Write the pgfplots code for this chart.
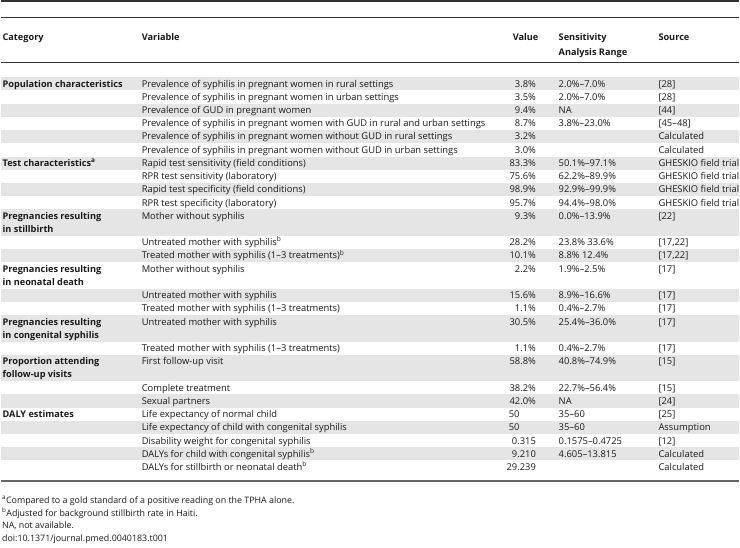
\documentclass[border=0pt]{standalone}
\usepackage{fontspec}
\setmainfont{Open Sans}
\usepackage{pgfplots}
\pgfplotsset{compat=1.18}
\definecolor{shade}{HTML}{E5E5E5}
\definecolor{txt}{HTML}{1A1A1A}
\definecolor{rulec}{HTML}{333333}

% x positions of the columns
\def\xcat{1.5}
\def\xvar{141}
\def\xval{536.5}
\def\xrng{559}
\def\xsrc{659}

\tikzset{
  cell/.style={anchor=base west, inner sep=0pt, text=txt, font=\fontsize{9.4}{11}\selectfont},
  cellr/.style={anchor=base east, inner sep=0pt, text=txt, font=\fontsize{9.4}{11}\selectfont},
  foot/.style={anchor=base west, inner sep=0pt, text=txt, font=\fontsize{8.9}{11}\selectfont},
  head/.style={anchor=base west, inner sep=0pt, text=txt, font=\fontsize{9.2}{11}\selectfont\bfseries},
  headr/.style={anchor=base east, inner sep=0pt, text=txt, font=\fontsize{9.2}{11}\selectfont\bfseries},
}

\begin{document}
\begin{tikzpicture}
\begin{axis}[
  width=740pt, height=549pt, scale only axis,
  xmin=0, xmax=740, ymin=0, ymax=549, y dir=reverse,
  hide axis, clip=false,
]
% page frame (invisible)
\addplot[draw=none, forget plot] coordinates {(0,0) (740,549)};

% shaded row bands (y from, y to)
\addplot[fill=shade, draw=none, forget plot] coordinates {(0,77.4) (740,77.4) (740,90.6) (0,90.6)};
\addplot[fill=shade, draw=none, forget plot] coordinates {(0,103.9) (740,103.9) (740,117.1) (0,117.1)};
\addplot[fill=shade, draw=none, forget plot] coordinates {(0,130.4) (740,130.4) (740,143.6) (0,143.6)};
\addplot[fill=shade, draw=none, forget plot] coordinates {(0,156.9) (740,156.9) (740,170.1) (0,170.1)};
\addplot[fill=shade, draw=none, forget plot] coordinates {(0,183.4) (740,183.4) (740,196.6) (0,196.6)};
\addplot[fill=shade, draw=none, forget plot] coordinates {(0,209.9) (740,209.9) (740,236.4) (0,236.4)};
\addplot[fill=shade, draw=none, forget plot] coordinates {(0,249.6) (740,249.6) (740,262.9) (0,262.9)};
\addplot[fill=shade, draw=none, forget plot] coordinates {(0,289.4) (740,289.4) (740,302.6) (0,302.6)};
\addplot[fill=shade, draw=none, forget plot] coordinates {(0,315.9) (740,315.9) (740,342.4) (0,342.4)};
\addplot[fill=shade, draw=none, forget plot] coordinates {(0,355.6) (740,355.6) (740,382.1) (0,382.1)};
\addplot[fill=shade, draw=none, forget plot] coordinates {(0,395.4) (740,395.4) (740,408.6) (0,408.6)};
\addplot[fill=shade, draw=none, forget plot] coordinates {(0,421.9) (740,421.9) (740,435.1) (0,435.1)};
\addplot[fill=shade, draw=none, forget plot] coordinates {(0,448.4) (740,448.4) (740,461.6) (0,461.6)};

% rules
\addplot[rulec, line width=1.8pt, forget plot] coordinates {(0,0.9) (740,0.9)};
\addplot[rulec, line width=0.8pt, forget plot] coordinates {(0,17.3) (740,17.3)};
\addplot[rulec, line width=0.9pt, forget plot] coordinates {(0,62.3) (740,62.3)};
\addplot[black!60, line width=1.7pt, forget plot] coordinates {(0,482) (740,482)};

% header
\node[head] at (axis cs:\xcat,40.6) {Category};
\node[head] at (axis cs:\xvar,40.6) {Variable};
\node[headr] at (axis cs:539,40.6) {Value};
\node[head] at (axis cs:\xrng,40.6) {Sensitivity};
\node[head] at (axis cs:\xrng,55.4) {Analysis Range};
\node[head] at (axis cs:\xsrc,40.6) {Source};

% categories
\node[head] at (axis cs:\xcat,87.3) {Population characteristics};
\node[head] at (axis cs:\xcat,166.8) {Test characteristics\textsuperscript{a}};
\node[head] at (axis cs:\xcat,219.8) {Pregnancies resulting};
\node[head] at (axis cs:\xcat,233.1) {in stillbirth};
\node[head] at (axis cs:\xcat,272.8) {Pregnancies resulting};
\node[head] at (axis cs:\xcat,286.1) {in neonatal death};
\node[head] at (axis cs:\xcat,325.8) {Pregnancies resulting};
\node[head] at (axis cs:\xcat,339.1) {in congenital syphilis};
\node[head] at (axis cs:\xcat,365.6) {Proportion attending};
\node[head] at (axis cs:\xcat,378.8) {follow-up visits};
\node[head] at (axis cs:\xcat,418.6) {DALY estimates};

% rows: variable / value / range / source
\node[cell] at (axis cs:\xvar,87.3) {Prevalence of syphilis in pregnant women in rural settings};
\node[cellr] at (axis cs:\xval,87.3) {3.8\%};
\node[cell] at (axis cs:\xrng,87.3) {2.0\%–7.0\%};
\node[cell] at (axis cs:\xsrc,87.3) {[28]};

\node[cell] at (axis cs:\xvar,100.6) {Prevalence of syphilis in pregnant women in urban settings};
\node[cellr] at (axis cs:\xval,100.6) {3.5\%};
\node[cell] at (axis cs:\xrng,100.6) {2.0\%–7.0\%};
\node[cell] at (axis cs:\xsrc,100.6) {[28]};

\node[cell] at (axis cs:\xvar,113.8) {Prevalence of GUD in pregnant women};
\node[cellr] at (axis cs:\xval,113.8) {9.4\%};
\node[cell] at (axis cs:\xrng,113.8) {NA};
\node[cell] at (axis cs:\xsrc,113.8) {[44]};

\node[cell] at (axis cs:\xvar,127.1) {Prevalence of syphilis in pregnant women with GUD in rural and urban settings};
\node[cellr] at (axis cs:\xval,127.1) {8.7\%};
\node[cell] at (axis cs:\xrng,127.1) {3.8\%–23.0\%};
\node[cell] at (axis cs:\xsrc,127.1) {[45–48]};

\node[cell] at (axis cs:\xvar,140.3) {Prevalence of syphilis in pregnant women without GUD in rural settings};
\node[cellr] at (axis cs:\xval,140.3) {3.2\%};
\node[cell] at (axis cs:\xsrc,140.3) {Calculated};

\node[cell] at (axis cs:\xvar,153.6) {Prevalence of syphilis in pregnant women without GUD in urban settings};
\node[cellr] at (axis cs:\xval,153.6) {3.0\%};
\node[cell] at (axis cs:\xsrc,153.6) {Calculated};

\node[cell] at (axis cs:\xvar,166.8) {Rapid test sensitivity (field conditions)};
\node[cellr] at (axis cs:\xval,166.8) {83.3\%};
\node[cell] at (axis cs:\xrng,166.8) {50.1\%–97.1\%};
\node[cell] at (axis cs:\xsrc,166.8) {GHESKIO field trial};

\node[cell] at (axis cs:\xvar,180.1) {RPR test sensitivity (laboratory)};
\node[cellr] at (axis cs:\xval,180.1) {75.6\%};
\node[cell] at (axis cs:\xrng,180.1) {62.2\%–89.9\%};
\node[cell] at (axis cs:\xsrc,180.1) {GHESKIO field trial};

\node[cell] at (axis cs:\xvar,193.3) {Rapid test specificity (field conditions)};
\node[cellr] at (axis cs:\xval,193.3) {98.9\%};
\node[cell] at (axis cs:\xrng,193.3) {92.9\%–99.9\%};
\node[cell] at (axis cs:\xsrc,193.3) {GHESKIO field trial};

\node[cell] at (axis cs:\xvar,206.6) {RPR test specificity (laboratory)};
\node[cellr] at (axis cs:\xval,206.6) {95.7\%};
\node[cell] at (axis cs:\xrng,206.6) {94.4\%–98.0\%};
\node[cell] at (axis cs:\xsrc,206.6) {GHESKIO field trial};

\node[cell] at (axis cs:\xvar,219.8) {Mother without syphilis};
\node[cellr] at (axis cs:\xval,219.8) {9.3\%};
\node[cell] at (axis cs:\xrng,219.8) {0.0\%–13.9\%};
\node[cell] at (axis cs:\xsrc,219.8) {[22]};

\node[cell] at (axis cs:\xvar,246.3) {Untreated mother with syphilis\textsuperscript{b}};
\node[cellr] at (axis cs:\xval,246.3) {28.2\%};
\node[cell] at (axis cs:\xrng,246.3) {23.8\% 33.6\%};
\node[cell] at (axis cs:\xsrc,246.3) {[17,22]};

\node[cell] at (axis cs:\xvar,259.6) {Treated mother with syphilis (1–3 treatments)\textsuperscript{b}};
\node[cellr] at (axis cs:\xval,259.6) {10.1\%};
\node[cell] at (axis cs:\xrng,259.6) {8.8\% 12.4\%};
\node[cell] at (axis cs:\xsrc,259.6) {[17,22]};

\node[cell] at (axis cs:\xvar,272.8) {Mother without syphilis};
\node[cellr] at (axis cs:\xval,272.8) {2.2\%};
\node[cell] at (axis cs:\xrng,272.8) {1.9\%–2.5\%};
\node[cell] at (axis cs:\xsrc,272.8) {[17]};

\node[cell] at (axis cs:\xvar,299.3) {Untreated mother with syphilis};
\node[cellr] at (axis cs:\xval,299.3) {15.6\%};
\node[cell] at (axis cs:\xrng,299.3) {8.9\%–16.6\%};
\node[cell] at (axis cs:\xsrc,299.3) {[17]};

\node[cell] at (axis cs:\xvar,312.6) {Treated mother with syphilis (1–3 treatments)};
\node[cellr] at (axis cs:\xval,312.6) {1.1\%};
\node[cell] at (axis cs:\xrng,312.6) {0.4\%–2.7\%};
\node[cell] at (axis cs:\xsrc,312.6) {[17]};

\node[cell] at (axis cs:\xvar,325.8) {Untreated mother with syphilis};
\node[cellr] at (axis cs:\xval,325.8) {30.5\%};
\node[cell] at (axis cs:\xrng,325.8) {25.4\%–36.0\%};
\node[cell] at (axis cs:\xsrc,325.8) {[17]};

\node[cell] at (axis cs:\xvar,352.3) {Treated mother with syphilis (1–3 treatments)};
\node[cellr] at (axis cs:\xval,352.3) {1.1\%};
\node[cell] at (axis cs:\xrng,352.3) {0.4\%–2.7\%};
\node[cell] at (axis cs:\xsrc,352.3) {[17]};

\node[cell] at (axis cs:\xvar,365.6) {First follow-up visit};
\node[cellr] at (axis cs:\xval,365.6) {58.8\%};
\node[cell] at (axis cs:\xrng,365.6) {40.8\%–74.9\%};
\node[cell] at (axis cs:\xsrc,365.6) {[15]};

\node[cell] at (axis cs:\xvar,392.1) {Complete treatment};
\node[cellr] at (axis cs:\xval,392.1) {38.2\%};
\node[cell] at (axis cs:\xrng,392.1) {22.7\%–56.4\%};
\node[cell] at (axis cs:\xsrc,392.1) {[15]};

\node[cell] at (axis cs:\xvar,405.3) {Sexual partners};
\node[cellr] at (axis cs:\xval,405.3) {42.0\%};
\node[cell] at (axis cs:\xrng,405.3) {NA};
\node[cell] at (axis cs:\xsrc,405.3) {[24]};

\node[cell] at (axis cs:\xvar,418.6) {Life expectancy of normal child};
\node[cell] at (axis cs:509,418.6) {50};
\node[cell] at (axis cs:\xrng,418.6) {35–60};
\node[cell] at (axis cs:\xsrc,418.6) {[25]};

\node[cell] at (axis cs:\xvar,431.8) {Life expectancy of child with congenital syphilis};
\node[cell] at (axis cs:509,431.8) {50};
\node[cell] at (axis cs:\xrng,431.8) {35–60};
\node[cell] at (axis cs:\xsrc,431.8) {Assumption};

\node[cell] at (axis cs:\xvar,445.1) {Disability weight for congenital syphilis};
\node[cellr] at (axis cs:\xval,445.1) {0.315};
\node[cell] at (axis cs:\xrng,445.1) {0.1575–0.4725};
\node[cell] at (axis cs:\xsrc,445.1) {[12]};

\node[cell] at (axis cs:\xvar,458.3) {DALYs for child with congenital syphilis\textsuperscript{b}};
\node[cellr] at (axis cs:\xval,458.3) {9.210};
\node[cell] at (axis cs:\xrng,458.3) {4.605–13.815};
\node[cell] at (axis cs:\xsrc,458.3) {Calculated};

\node[cell] at (axis cs:\xvar,471.6) {DALYs for stillbirth or neonatal death\textsuperscript{b}};
\node[cellr] at (axis cs:\xval,471.6) {29.239};
\node[cell] at (axis cs:\xsrc,471.6) {Calculated};

% footnotes
\node[foot] at (axis cs:1,505) {\textsuperscript{a}Compared to a gold standard of a positive reading on the TPHA alone.};
\node[foot] at (axis cs:1,517.5) {\textsuperscript{b}Adjusted for background stillbirth rate in Haiti.};
\node[foot] at (axis cs:1,530) {NA, not available.};
\node[foot] at (axis cs:1,542.5) {doi:10.1371/journal.pmed.0040183.t001};
\end{axis}
\end{tikzpicture}
\end{document}
